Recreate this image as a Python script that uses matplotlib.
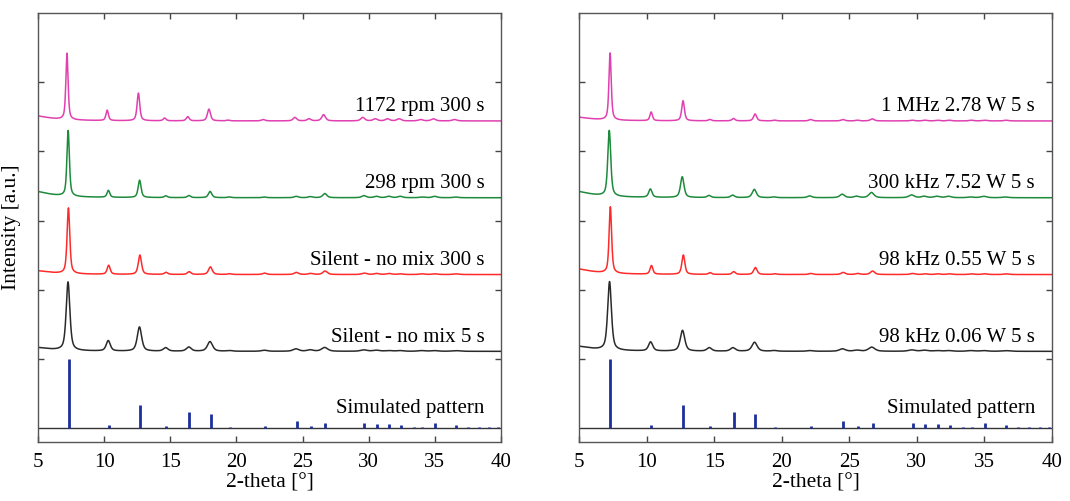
import numpy as np
import matplotlib
matplotlib.use("Agg")
import matplotlib.pyplot as plt

plt.rcParams['font.family'] = ['Liberation Serif', 'DejaVu Serif']

# ---- data ----
# simulated stick pattern (2-theta, relative intensity)
SIM_POS = [7.32, 10.36, 12.72, 14.70, 16.45, 18.05, 19.50, 22.15, 24.55, 25.62,
           26.72, 29.68, 30.62, 31.55, 32.42, 33.40, 34.05, 35.02, 36.62, 37.50,
           38.30, 39.10, 39.80]
SIM_INT = [1.00, 0.05, 0.34, 0.035, 0.24, 0.21, 0.02, 0.035, 0.10, 0.035,
           0.08, 0.07, 0.055, 0.055, 0.04, 0.01, 0.02, 0.07, 0.04, 0.01,
           0.01, 0.01, 0.01]

# reflections seen in the measured patterns
PEAK_POS = [7.32, 10.36, 12.72, 14.70, 16.45, 18.05, 19.50, 22.15, 24.55, 25.62,
            26.72, 29.68, 30.62, 31.55, 32.42, 34.05, 35.02, 36.62]

# left panel: mixing speed series (top to bottom)
LEFT_LABELS = ["1172 rpm 300 s", "298 rpm 300 s", "Silent - no mix 300 s", "Silent - no mix 5 s"]
LEFT_HEIGHTS = [
    [0.96, 0.15, 0.40, 0.04, 0.06, 0.17, 0.01, 0.02, 0.05, 0.03, 0.09, 0.05, 0.03, 0.03, 0.03, 0.02, 0.03, 0.02],
    [0.95, 0.10, 0.25, 0.025, 0.03, 0.09, 0.01, 0.01, 0.02, 0.015, 0.06, 0.03, 0.02, 0.02, 0.02, 0.01, 0.02, 0.01],
    [0.95, 0.13, 0.28, 0.03, 0.04, 0.11, 0.01, 0.02, 0.03, 0.015, 0.05, 0.02, 0.015, 0.015, 0.01, 0.01, 0.01, 0.01],
    [0.99, 0.15, 0.35, 0.05, 0.06, 0.14, 0.01, 0.015, 0.035, 0.02, 0.055, 0.02, 0.015, 0.01, 0.01, 0.01, 0.01, 0.01],
]
LEFT_SHIFT = [-0.13, -0.04, -0.02, -0.05]
LEFT_FWHM = [0.20, 0.22, 0.24, 0.33]
LEFT_HUMP = [0.08, 0.10, 0.06, 0.06]

# right panel: ultrasound series (top to bottom)
RIGHT_LABELS = ["1 MHz 2.78 W 5 s", "300 kHz 7.52 W 5 s", "98 kHz 0.55 W 5 s", "98 kHz 0.06 W 5 s"]
RIGHT_HEIGHTS = [
    [0.97, 0.125, 0.29, 0.02, 0.035, 0.10, 0.01, 0.02, 0.02, 0.01, 0.03, 0.01, 0.01, 0.01, 0.01, 0.01, 0.01, 0.01],
    [0.95, 0.12, 0.30, 0.03, 0.035, 0.12, 0.01, 0.025, 0.05, 0.02, 0.075, 0.04, 0.02, 0.02, 0.02, 0.01, 0.02, 0.01],
    [0.96, 0.125, 0.28, 0.025, 0.04, 0.10, 0.01, 0.015, 0.03, 0.015, 0.05, 0.015, 0.01, 0.01, 0.01, 0.01, 0.01, 0.01],
    [0.99, 0.13, 0.30, 0.05, 0.05, 0.13, 0.01, 0.01, 0.035, 0.015, 0.06, 0.02, 0.015, 0.01, 0.01, 0.01, 0.01, 0.01],
]
RIGHT_SHIFT = [-0.02, -0.08, 0.0, -0.06]
RIGHT_FWHM = [0.20, 0.26, 0.22, 0.33]
RIGHT_HUMP = [0.06, 0.10, 0.09, 0.08]

OFFSETS = [4.44, 3.33, 2.22, 1.11]
COLORS = ['#e040b0', '#1e8a3c', '#ff2a2a', '#2a2a2a']
STICK_COLOR = '#1c2f9c'


def pv(x, c, fwhm, eta=0.6):
    d = (x - c) / fwhm
    return eta / (1 + 4 * d ** 2) + (1 - eta) * np.exp(-4 * np.log(2) * d ** 2)


def pattern(x, heights, shift, fwhm, hump):
    y = hump * pv(x, 4.5, 3.0, eta=1.0)
    for p, h in zip(PEAK_POS, heights):
        # reflections get a bit broader towards higher angle
        w = fwhm * (1 + 0.035 * (p - 7.3))
        y += h * pv(x, p + shift, w)
    return y


def draw_panel(ax, labels, heights, shifts, fwhms, humps):
    x = np.linspace(5, 40, 3501)
    for i in range(4):
        y = pattern(x, heights[i], shifts[i], fwhms[i], humps[i]) + OFFSETS[i]
        ax.plot(x, y, color=COLORS[i], lw=1.1)
        ax.text(38.75, OFFSETS[i] + 0.14, labels[i], ha='right', va='baseline', fontsize=15)
    ax.axhline(0, color='#333333', lw=1.0)
    ax.vlines(SIM_POS, 0, SIM_INT, color=STICK_COLOR, lw=2.0)
    ax.text(38.75, 0.22, "Simulated pattern", ha='right', va='baseline', fontsize=15)

    ax.set_xlim(5, 40)
    ax.set_ylim(-0.2, 6)
    ax.set_xticks(range(5, 41, 5))
    ax.set_yticks([1, 2, 3, 4, 5])
    ax.set_yticklabels([])
    ax.tick_params(direction='in', length=4, width=1, color='#444444',
                   top=True, right=True, labelsize=15, pad=8)
    for s in ax.spines.values():
        s.set_color('#555555')
        s.set_linewidth(1.0)
    ax.set_xlabel("2-theta [°]", fontsize=15.5, labelpad=1)


fig = plt.figure(figsize=(10.7, 5.01), dpi=100)
ax1 = fig.add_axes([38 / 1070, 1 - 442 / 501, 463 / 1070, 429 / 501])
ax2 = fig.add_axes([579 / 1070, 1 - 442 / 501, 473 / 1070, 429 / 501])

draw_panel(ax1, LEFT_LABELS, LEFT_HEIGHTS, LEFT_SHIFT, LEFT_FWHM, LEFT_HUMP)
draw_panel(ax2, RIGHT_LABELS, RIGHT_HEIGHTS, RIGHT_SHIFT, RIGHT_FWHM, RIGHT_HUMP)
ax1.set_ylabel("Intensity [a.u.]", fontsize=15.5, labelpad=4)

fig.savefig("out.png", dpi=100)
